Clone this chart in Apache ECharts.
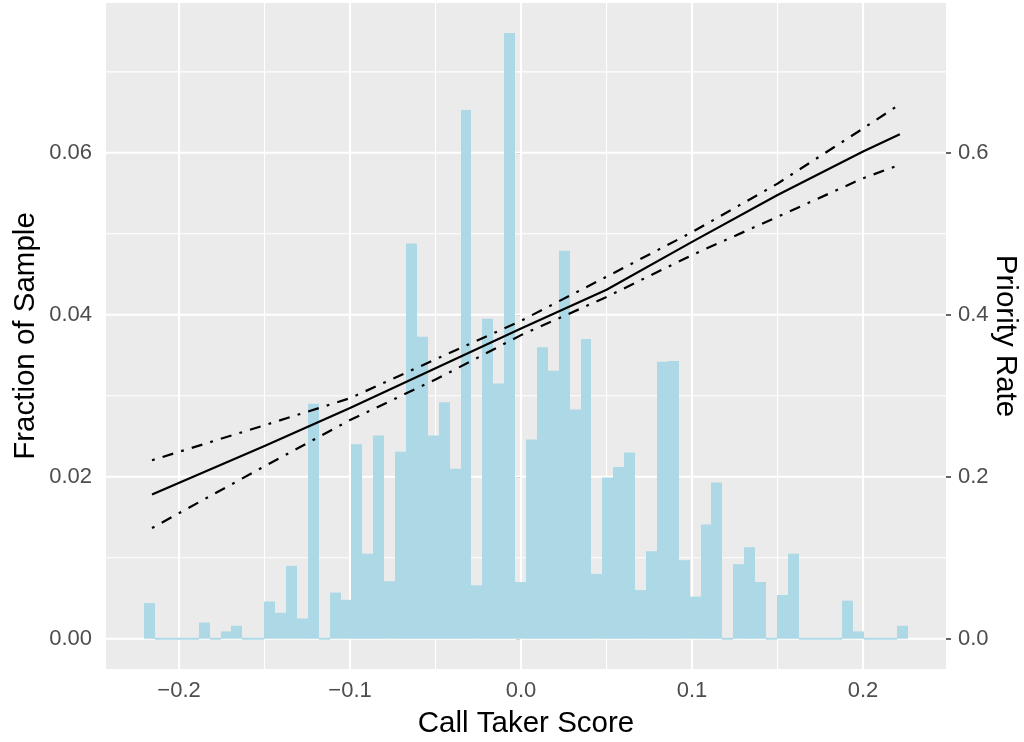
<!DOCTYPE html>
<html>
<head>
<meta charset="utf-8">
<title>Call Taker Score</title>
<script src="https://cdn.jsdelivr.net/npm/echarts@6/dist/echarts.min.js"></script>
<style>
  html, body { margin: 0; padding: 0; background: #ffffff; }
  #chart { width: 1024px; height: 742px; }
</style>
</head>
<body>
<div id="chart"></div>
<script>
// Histogram of call taker scores: 70 equal-width bins
const binStart = -0.2204;
const binWidth = 0.00638;
const fractionOfSample = [
  0.0044, 0, 0, 0, 0, 0.0020, 0, 0.0009, 0.0016, 0,
  0, 0.0046, 0.0032, 0.0090, 0.0025, 0.0290, 0, 0.0057, 0.0048, 0.0240,
  0.0105, 0.0251, 0.0071, 0.0231, 0.0488, 0.0373, 0.0251, 0.0292, 0.0210, 0.0653,
  0.0066, 0.0395, 0.0315, 0.0748, 0.0070, 0.0246, 0.0360, 0.0331, 0.0479, 0.0283,
  0.0370, 0.0080, 0.0199, 0.0212, 0.0230, 0.0060, 0.0108, 0.0342, 0.0343, 0.0097,
  0.0052, 0.0141, 0.0193, 0, 0.0092, 0.0113, 0.0070, 0, 0.0054, 0.0105,
  0, 0, 0, 0, 0.0047, 0.0009, 0, 0, 0, 0.0016
];

// Fitted priority rate with its confidence band
const fitScore      = [-0.2158, -0.15, -0.1, -0.05, 0, 0.05, 0.1, 0.15, 0.2, 0.2215];
const priorityFit   = [0.178, 0.238, 0.285, 0.334, 0.383, 0.431, 0.490, 0.548, 0.6015, 0.623];
const priorityUpper = [0.2204, 0.2636, 0.297, 0.345, 0.3926, 0.447, 0.502, 0.562, 0.630, 0.660];
const priorityLower = [0.1367, 0.213, 0.270, 0.320, 0.3749, 0.422, 0.4738, 0.521, 0.5686, 0.5853];

// Axis breaks
const xTicks = [-0.2, -0.1, 0, 0.1, 0.2];
const xMinor = [-0.15, -0.05, 0.05, 0.15];
const leftTicks = [0, 0.02, 0.04, 0.06];
const leftMinor = [0.01, 0.03, 0.05, 0.07];
const rightTicks = [0, 0.2, 0.4, 0.6];

const FONT = 'Liberation Sans';
const TICK_FONT = 22;
const TITLE_FONT = 29.5;

const barData = fractionOfSample.map((h, i) => [binStart + i * binWidth, binStart + (i + 1) * binWidth, h]);
const gridData = [].concat(
  xTicks.map(v => [0, v, 1]),
  xMinor.map(v => [0, v, 0]),
  leftTicks.map(v => [1, v, 1]),
  leftMinor.map(v => [1, v, 0])
);
const pairs = ys => fitScore.map((x, i) => [x, ys[i]]);
const minus = s => s.replace('-', '\u2212');
const dotDash = [2.8, 8.3, 11.1, 8.3];

const chart = echarts.init(document.getElementById('chart'), null, { renderer: 'canvas' });

chart.setOption({
  animation: false,
  backgroundColor: '#ffffff',
  textStyle: { fontFamily: FONT },
  grid: {
    left: 106, right: 78, top: 3, bottom: 73,
    outerBoundsMode: 'none',
    containLabel: false,
    show: true, backgroundColor: '#EBEBEB', borderWidth: 0
  },
  xAxis: {
    type: 'value',
    min: -0.2427, max: 0.2485,
    axisLine: { show: false },
    splitLine: { show: false },
    axisTick: { show: true, length: 5, customValues: xTicks, lineStyle: { color: '#333333', width: 1.5 } },
    axisLabel: {
      customValues: xTicks, margin: 11,
      color: '#4D4D4D', fontSize: TICK_FONT, fontFamily: FONT,
      formatter: v => minus(v.toFixed(1))
    },
    name: 'Call Taker Score', nameLocation: 'middle', nameGap: 40, nameMoveOverlap: false,
    nameTextStyle: { color: '#000000', fontSize: TITLE_FONT, fontFamily: FONT }
  },
  yAxis: [
    {
      type: 'value',
      min: -0.00374, max: 0.0785,
      axisLine: { show: false },
      splitLine: { show: false },
      axisTick: { show: true, length: 5, customValues: leftTicks, lineStyle: { color: '#333333', width: 1.5 } },
      axisLabel: {
        customValues: leftTicks, margin: 14,
        color: '#4D4D4D', fontSize: TICK_FONT, fontFamily: FONT,
        formatter: v => v.toFixed(2)
      },
      name: 'Fraction of Sample', nameLocation: 'middle', nameGap: 65, nameRotate: 90, nameMoveOverlap: false,
      nameTextStyle: { color: '#000000', fontSize: TITLE_FONT, fontFamily: FONT }
    },
    {
      type: 'value', position: 'right',
      min: -0.0374, max: 0.785,
      axisLine: { show: false },
      splitLine: { show: false },
      axisTick: { show: true, length: 5, customValues: rightTicks, lineStyle: { color: '#333333', width: 1.5 } },
      axisLabel: {
        customValues: rightTicks, margin: 12,
        color: '#4D4D4D', fontSize: TICK_FONT, fontFamily: FONT,
        formatter: v => v.toFixed(1)
      },
      name: 'Priority Rate', nameLocation: 'middle', nameGap: 44, nameRotate: -90, nameMoveOverlap: false,
      nameTextStyle: { color: '#000000', fontSize: TITLE_FONT, fontFamily: FONT }
    }
  ],
  series: [
    {
      // panel grid lines, major and minor
      type: 'custom', name: 'grid', silent: true, z: 1,
      xAxisIndex: 0, yAxisIndex: 0,
      data: gridData,
      renderItem(params, api) {
        const cs = params.coordSys;
        const dir = api.value(0), v = api.value(1);
        const w = api.value(2) ? 2.1 : 1.1;
        if (dir === 0) {
          const x = api.coord([v, 0])[0];
          return { type: 'line', shape: { x1: x, y1: cs.y, x2: x, y2: cs.y + cs.height }, style: { stroke: '#ffffff', lineWidth: w } };
        }
        const y = api.coord([0, v])[1];
        return { type: 'line', shape: { x1: cs.x, y1: y, x2: cs.x + cs.width, y2: y }, style: { stroke: '#ffffff', lineWidth: w } };
      }
    },
    {
      // histogram bars; edges snapped to whole pixels so neighbours meet without seams
      type: 'custom', name: 'Fraction of Sample', z: 2,
      xAxisIndex: 0, yAxisIndex: 0,
      encode: { x: [0, 1], y: 2 },
      data: barData,
      renderItem(params, api) {
        const p0 = api.coord([api.value(0), 0]);
        const p1 = api.coord([api.value(1), api.value(2)]);
        const x0 = Math.round(p0[0]), x1 = Math.round(p1[0]);
        let top = p1[1], bottom = p0[1];
        if (bottom - top < 1) { top = bottom - 1; bottom = bottom + 1; }
        return {
          type: 'rect',
          shape: { x: x0, y: top, width: x1 - x0, height: bottom - top },
          style: { fill: '#ADD8E6' }
        };
      }
    },
    {
      type: 'line', name: 'Priority Rate', yAxisIndex: 1, z: 4,
      data: pairs(priorityFit), symbol: 'none', smooth: false,
      lineStyle: { color: '#000000', width: 2.2 }
    },
    {
      type: 'line', name: 'Upper', yAxisIndex: 1, z: 4,
      data: pairs(priorityUpper), symbol: 'none', smooth: false,
      lineStyle: { color: '#000000', width: 2.2, type: dotDash, cap: 'butt' }
    },
    {
      type: 'line', name: 'Lower', yAxisIndex: 1, z: 4,
      data: pairs(priorityLower), symbol: 'none', smooth: false,
      lineStyle: { color: '#000000', width: 2.2, type: dotDash, cap: 'butt' }
    }
  ]
});
</script>
</body>
</html>
